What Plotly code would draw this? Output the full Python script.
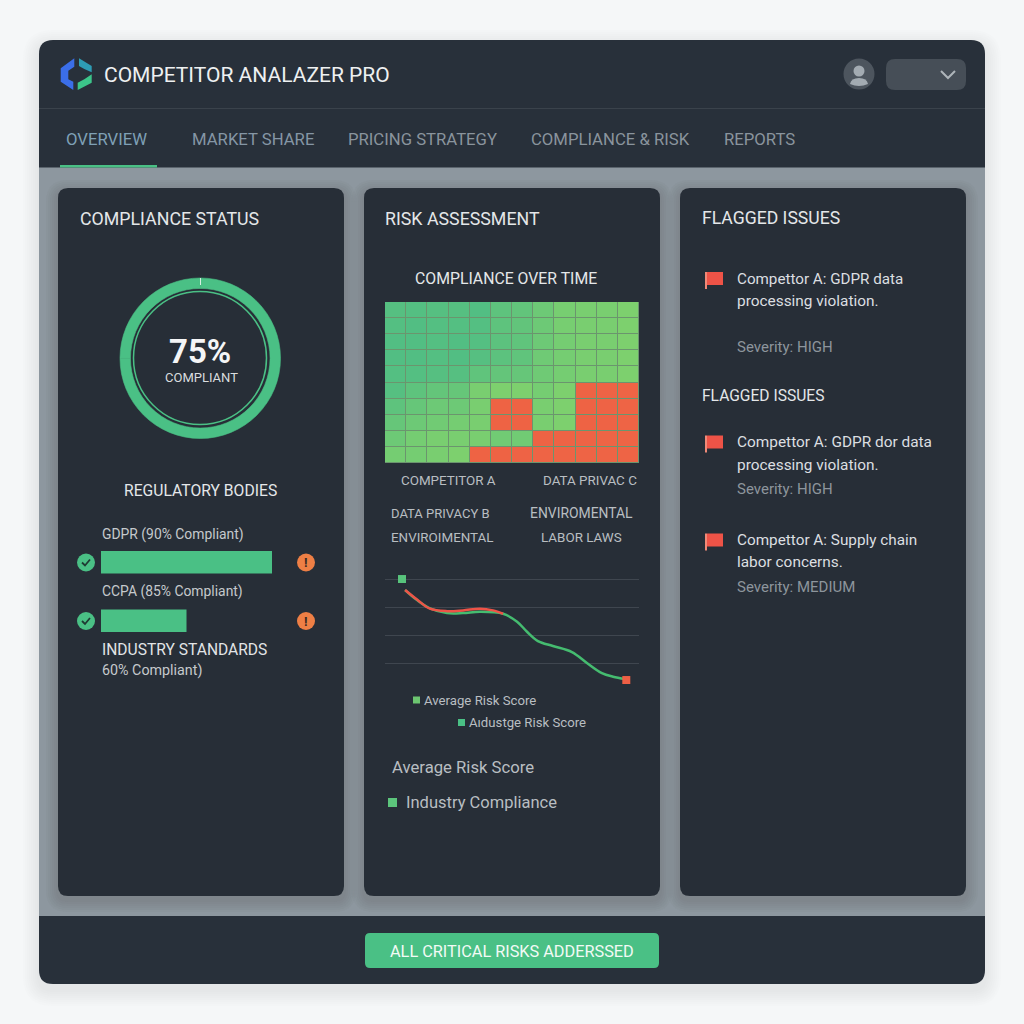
import plotly.graph_objects as go

# heatmap: compliance score per cell (low = red)
heat_values = [
    [92, 93, 92, 92, 94, 88, 86, 80, 75, 74, 74, 72],
    [93, 94, 93, 93, 93, 88, 86, 80, 75, 74, 74, 72],
    [94, 94, 93, 94, 93, 89, 87, 80, 76, 74, 74, 72],
    [94, 94, 93, 94, 92, 89, 87, 79, 76, 74, 74, 72],
    [93, 93, 92, 92, 87, 85, 84, 79, 76, 74, 74, 72],
    [92, 88, 85, 84, 74, 71, 70, 76, 72, 12, 13, 16],
    [88, 84, 80, 80, 74, 10, 11, 74, 72, 12, 13, 16],
    [84, 80, 78, 76, 74, 10, 11, 74, 72, 12, 13, 16],
    [80, 76, 74, 74, 74, 78, 78, 10, 13, 13, 14, 16],
    [76, 76, 74, 72, 10, 11, 13, 14, 15, 15, 16, 16],
]

# risk score lines
green_t = [7.9, 12.6, 17.7, 24.4, 30.7, 37.4, 46.5, 52, 55.9, 60.2, 66.1, 73.6, 79.5, 85.4, 89.8, 94.5]
green_v = [90.2, 81.2, 73.8, 69.6, 69.6, 70.8, 69, 61.9, 52.9, 44.6, 40.2, 34.8, 25, 16, 12.8, 10.7]
red_t = [7.9, 12.6, 17.7, 24.4, 30.7, 37.4, 42.5, 46.5]
red_v = [90.2, 81.7, 73.5, 71.3, 72, 73.5, 72, 69]
start_t, start_v = [6.7], [100]
end_t, end_v = [95], [9.8]

# regulatory bars
bar_names = ["GDPR", "CCPA"]
bar_values = [90, 45]

# gauge
gauge_values = [75, 25]

DARK = "#28303A"
PANEL = "#272E37"
GREEN = "#4AC085"
TEXT = "#E4E7E9"
MUTED = "#B9BEC2"
GREY = "#8D979F"
FONT = "Roboto"


def px(x):
    return x / 1024


def py(y):
    return 1 - y / 1024


def rounded(x0, y0, x1, y1, r):
    a, b, c, d = px(x0), py(y0), px(x1), py(y1)
    rx, ry = r / 1024, r / 1024
    return (f"M{a+rx},{b} L{c-rx},{b} Q{c},{b} {c},{b-ry} L{c},{d+ry} Q{c},{d} {c-rx},{d} "
            f"L{a+rx},{d} Q{a},{d} {a},{d+ry} L{a},{b-ry} Q{a},{b} {a+rx},{b} Z")


shapes = []


def box(x0, y0, x1, y1, r, color, opacity=1):
    shapes.append(dict(type="path", path=rounded(x0, y0, x1, y1, r), xref="paper", yref="paper",
                       fillcolor=color, opacity=opacity, line_width=0, layer="below"))


def rect(x0, y0, x1, y1, color, opacity=1):
    shapes.append(dict(type="rect", x0=px(x0), x1=px(x1), y0=py(y0), y1=py(y1), xref="paper", yref="paper",
                       fillcolor=color, opacity=opacity, line_width=0, layer="below"))


def poly(points, color):
    d = "M" + " L".join(f"{px(x)},{py(y)}" for x, y in points) + " Z"
    shapes.append(dict(type="path", path=d, xref="paper", yref="paper", fillcolor=color, line_width=0, layer="below"))


def stroke(points, color, width):
    d = "M" + " L".join(f"{px(x)},{py(y)}" for x, y in points)
    shapes.append(dict(type="path", path=d, xref="paper", yref="paper", line=dict(color=color, width=width), layer="above"))


def circle(cx, cy, r, fill=None, line=None, width=0):
    shapes.append(dict(type="circle", x0=px(cx - r), x1=px(cx + r), y0=py(cy - r), y1=py(cy + r),
                       xref="paper", yref="paper", fillcolor=fill or "rgba(0,0,0,0)",
                       line=dict(color=line or "rgba(0,0,0,0)", width=width), layer="above"))


annotations = []


def label(x, y, text, size, color=TEXT, anchor="left", bold=False):
    # annotations carry about 2px of padding on the left
    if anchor == "left":
        x = x - 2
    annotations.append(dict(x=px(x), y=py(y), xref="paper", yref="paper", text=f"<b>{text}</b>" if bold else text,
                            showarrow=False, xanchor=anchor, yanchor="middle",
                            font=dict(family=FONT, size=size, color=color)))


# page and card
rect(0, 0, 1024, 1024, "#F5F7F8")
for g in range(16, 0, -2):
    box(39 - g, 40 - g + 6, 985 + g, 984 + g + 6, 14 + g, "#9AA8A2", 0.025)
box(39, 40, 985, 984, 14, DARK)
rect(39, 167.5, 985, 916, GREY)
rect(39, 108, 985, 109, "#3A424B")
rect(60, 165, 157, 167.5, GREEN)

# panels with soft shadow
for x0, x1 in [(58, 344), (364, 660), (680, 966)]:
    for g in range(12, 0, -2):
        box(x0 - g, 188 - g + 4, x1 + g, 896 + g + 4, 10 + g, "#5A636B", 0.05)
    box(x0, 188, x1, 896, 10, PANEL)

# logo
poly([(60.7, 68.3), (74.3, 58.3), (74.3, 66.7), (68.3, 70.7), (68.3, 79.3), (73.3, 81.7), (73.3, 90), (60.7, 81.7)], "#3B6EE8")
poly([(79, 58.3), (91.7, 66), (91.7, 72.3), (84.3, 69), (79, 66)], "#2E9DB5")
poly([(77.7, 82.7), (84.3, 79.3), (91.7, 74.3), (91.7, 82.7), (77.7, 90)], "#3CC58A")
label(104, 75, "COMPETITOR ANALAZER PRO", 21, "#EEF0F1")

# user widgets
circle(859, 74, 15.5, fill="#4D555E")
circle(859, 71, 5.5, fill="#A3ABB2")
shapes.append(dict(type="path", xref="paper", yref="paper", fillcolor="#A3ABB2", line_width=0, layer="above",
                   path=f"M{px(850)},{py(84)} Q{px(851)},{py(78)} {px(859)},{py(78)} Q{px(867)},{py(78)} {px(868)},{py(84)} Q{px(859)},{py(88)} {px(850)},{py(84)} Z"))
box(886, 59, 966, 90, 9, "#464E57")
stroke([(941, 71), (948, 78), (955, 71)], "#AEB5BA", 2)

# tabs
label(66, 139, "OVERVIEW", 16.7, "#7FA0B6")
label(192, 139, "MARKET SHARE", 16.7, "#8596A5")
label(348, 139, "PRICING STRATEGY", 16.7, "#8A949D")
label(531, 139, "COMPLIANCE &amp; RISK", 16.7, "#8A949D")
label(724, 139, "REPORTS", 16.7, "#8A949D")

# left panel
label(80, 218, "COMPLIANCE STATUS", 17.8)
circle(200, 358, 66.5, line=GREEN, width=1.5)
stroke([(200.5, 278), (200.5, 285)], "#D7EFE2", 1)
label(200, 351, "75%", 33, "#F4F5F6", "center", True)
label(201, 377, "COMPLIANT", 13, "#DADDDF", "center")
label(200, 490, "REGULATORY BODIES", 15.7, TEXT, "center")
label(102, 534, "GDPR (90% Compliant)", 13.9, "#C5C9CC")
label(102, 591, "CCPA (85% Compliant)", 13.9, "#C5C9CC")
label(102, 650, "INDUSTRY STANDARDS", 15.6, "#E2E4E6")
label(102, 670, "60% Compliant)", 14.3, "#C5C9CC")
for cy in [562.5, 621]:
    circle(86, cy, 9, fill=GREEN)
    stroke([(82, cy), (85, cy + 3), (90, cy - 3)], "#1F3A33", 1.8)
    circle(306, cy, 9, fill="#EE7F45")
    label(306, cy, "!", 13, "#3A2A22", "center", True)

# middle panel
label(385, 218, "RISK ASSESSMENT", 17.8)
label(506, 278, "COMPLIANCE OVER TIME", 15.8, TEXT, "center")
rect(385, 302, 639, 463, "#6B956E")
label(401, 480, "COMPETITOR A", 13.4, MUTED)
label(543, 480, "DATA PRIVAC C", 13.4, MUTED)
label(391, 513, "DATA PRIVACY B", 13, MUTED)
label(530, 513, "ENVIROMENTAL", 13.9, MUTED)
label(391, 537, "ENVIROIMENTAL", 13.4, MUTED)
label(541, 537, "LABOR LAWS", 13.4, MUTED)
rect(413, 696.5, 420, 703.5, "#6CC570")
label(424, 700, "Average Risk Score", 13.2, MUTED)
rect(458, 719, 465, 726, GREEN)
label(469, 722, "Aıdustge Risk Score", 13.2, MUTED)
label(392, 767, "Average Risk Score", 16.7, MUTED)
rect(388, 798, 397, 807, "#5CC57C")
label(406, 802, "Industry Compliance", 16.5, MUTED)

# right panel
label(702, 218, "FLAGGED ISSUES", 17.6)
label(702, 396, "FLAGGED ISSUES", 15.6)
for fy in [272, 435.5, 533.5]:
    rect(705, fy, 707, fy + 17, "#F08A78")
    rect(707, fy, 723, fy + 13, "#EE5347")
label(737, 279, "Compettor A: GDPR data", 15.2, "#DCDFE1")
label(737, 301, "processing violation.", 15.4, "#DCDFE1")
label(737, 347, "Severity: HIGH", 15, "#8D959C")
label(737, 442, "Compettor A: GDPR dor data", 15.4, "#DCDFE1")
label(737, 465, "processing violation.", 15.4, "#DCDFE1")
label(737, 489, "Severity: HIGH", 15, "#8D959C")
label(737, 540, "Compettor A: Supply chain", 15.3, "#DCDFE1")
label(737, 562, "labor concerns.", 15.4, "#DCDFE1")
label(737, 587, "Severity: MEDIUM", 15, "#8D959C")

# footer
box(365, 933, 659, 968, 5, GREEN)
label(512, 951, "ALL CRITICAL RISKS ADDERSSED", 16.3, "#F2FAF5", "center")

fig = go.Figure()

fig.add_trace(go.Heatmap(
    z=heat_values, xgap=1, ygap=1, showscale=False, zmin=0, zmax=100, xaxis="x", yaxis="y", hoverinfo="skip",
    colorscale=[[0, "#EE6042"], [0.2, "#EE6546"], [0.21, "#7DD06E"], [0.72, "#7DD06E"], [0.95, "#50BD84"], [1, "#50BD84"]],
))

fig.add_trace(go.Scatter(x=green_t, y=green_v, mode="lines", line=dict(color="#45BC70", width=2.5, shape="spline"),
                         xaxis="x2", yaxis="y2", showlegend=False, hoverinfo="skip"))
fig.add_trace(go.Scatter(x=red_t, y=red_v, mode="lines", line=dict(color="#EE5347", width=2.5, shape="spline"),
                         xaxis="x2", yaxis="y2", showlegend=False, hoverinfo="skip"))
fig.add_trace(go.Scatter(x=start_t, y=start_v, mode="markers", marker=dict(symbol="square", size=8, color="#58C47C"),
                         xaxis="x2", yaxis="y2", showlegend=False, hoverinfo="skip", cliponaxis=False))
fig.add_trace(go.Scatter(x=end_t, y=end_v, mode="markers", marker=dict(symbol="square", size=8, color="#EE5F45"),
                         xaxis="x2", yaxis="y2", showlegend=False, hoverinfo="skip", cliponaxis=False))

fig.add_trace(go.Bar(x=bar_values, y=bar_names, orientation="h", width=0.385, marker=dict(color=GREEN, line_width=0),
                     xaxis="x3", yaxis="y3", showlegend=False, hoverinfo="skip"))

fig.add_trace(go.Pie(values=gauge_values, hole=0.87, sort=False, direction="clockwise", textinfo="none",
                     marker=dict(colors=[GREEN, GREEN], line=dict(color=GREEN, width=0.6)), showlegend=False,
                     hoverinfo="skip", domain=dict(x=[px(120), px(280.5)], y=[py(438.5), py(278)])))


def hidden(**kw):
    return dict(visible=False, fixedrange=True, **kw)


fig.update_layout(
    width=1024, height=1024, margin=dict(l=0, r=0, t=0, b=0), autosize=False,
    paper_bgcolor="#F5F7F8", plot_bgcolor="rgba(0,0,0,0)", shapes=shapes, annotations=annotations,
    font=dict(family=FONT),
    xaxis=hidden(domain=[px(385), px(639)], anchor="y"),
    yaxis=hidden(domain=[py(463), py(302)], anchor="x", autorange="reversed"),
    xaxis2=dict(domain=[px(385), px(639)], anchor="y2", range=[0, 100], showgrid=False, zeroline=False,
                showticklabels=False, ticks="", fixedrange=True),
    yaxis2=dict(domain=[py(690), py(575)], anchor="x2", range=[0.9, 103.6], tickvals=[25, 50, 75, 100],
                showgrid=True, gridcolor="#3F464F", gridwidth=1, zeroline=False, showticklabels=False, ticks="",
                fixedrange=True),
    xaxis3=hidden(domain=[px(101), px(291)], anchor="y3", range=[0, 100]),
    yaxis3=hidden(domain=[py(650), py(533)], anchor="x3", autorange="reversed", type="category"),
)

fig.write_html("out.html", config=dict(displayModeBar=False),
               post_script="document.body.style.margin='0';document.body.style.overflow='hidden';")
